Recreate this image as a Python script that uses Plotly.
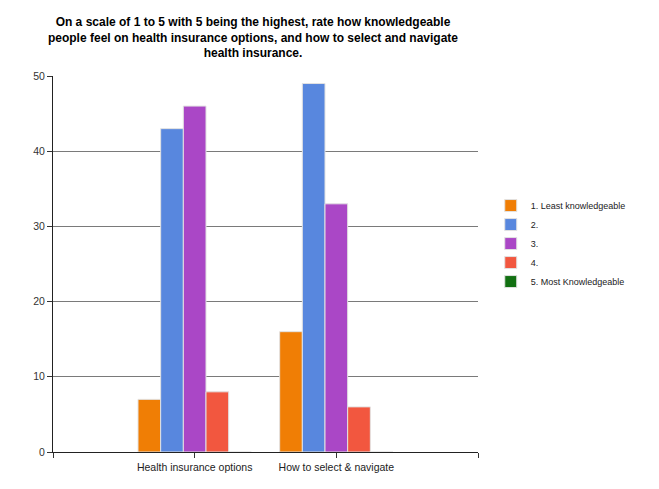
import plotly.graph_objects as go

categories = ["Health insurance options", "How to select & navigate"]
series_names = ["1. Least knowledgeable", "2.", "3.", "4.", "5. Most Knowledgeable"]
values = {
    "1. Least knowledgeable": [7, 16],
    "2.": [43, 49],
    "3.": [46, 33],
    "4.": [8, 6],
    "5. Most Knowledgeable": [0, 0],
}
colors = ["#F07E05", "#5887DE", "#AA47C6", "#F2573F", "#127012"]
y_ticks = [0, 10, 20, 30, 40, 50]

x_pos = [i + 1 for i in range(len(categories))]

fig = go.Figure()
for name, col in zip(series_names, colors):
    fig.add_trace(go.Bar(
        x=x_pos, y=values[name], name=name,
        marker=dict(color=col, line=dict(color="#e2e2e2", width=1)),
    ))

L, R, T, B = 45, 189, 68, 45
plot_w = 659 - L - R

fig.update_layout(
    width=659, height=489,
    margin=dict(l=L, r=R, t=T, b=B),
    paper_bgcolor="white", plot_bgcolor="white",
    font=dict(family="Liberation Sans, Arial, sans-serif", color="#222", size=10),
    barmode="group", bargap=0.2, bargroupgap=0,
    title=dict(
        text="On a scale of 1 to 5 with 5 being the highest, rate how knowledgeable<br>"
             "people feel on health insurance options, and how to select and navigate<br>"
             "health insurance.",
        x=245 / 659, xanchor="center", y=1 - 18 / 489, yanchor="middle",
        font=dict(family="Liberation Sans, Arial, sans-serif", size=12, color="black", weight="bold"),
    ),
    legend=dict(
        x=1.030, xanchor="left", y=0.694, yanchor="top",
        font=dict(size=9, color="#222"), tracegroupgap=0,
        bgcolor="rgba(0,0,0,0)",
    ),
    xaxis=dict(
        range=[0, len(categories) + 1],
        tickmode="array",
        tickvals=[0] + x_pos + [len(categories) + 1],
        ticktext=[""] + categories + [""],
        ticks="outside", ticklen=5, tickcolor="#333",
        showline=True, linecolor="#222", linewidth=1,
        showgrid=False, zeroline=False,
        tickfont=dict(size=10.5, color="#222"),
    ),
    yaxis=dict(
        range=[0, 50], tickmode="array", tickvals=y_ticks,
        ticks="outside", ticklen=5, tickcolor="#333",
        showline=True, linecolor="#222", linewidth=1,
        showgrid=True, gridcolor="#7a7a7a", gridwidth=1,
        zeroline=False,
        tickfont=dict(size=10.5, color="#333"),
    ),
    shapes=[dict(
        type="line", xref="paper", yref="paper",
        x0=(650 - L) / plot_w, x1=(650 - L) / plot_w,
        y0=-B / (489 - T - B), y1=1 + T / (489 - T - B),
        line=dict(color="#e8e8f0", width=1),
    )],
)

fig.write_html("out.html")
